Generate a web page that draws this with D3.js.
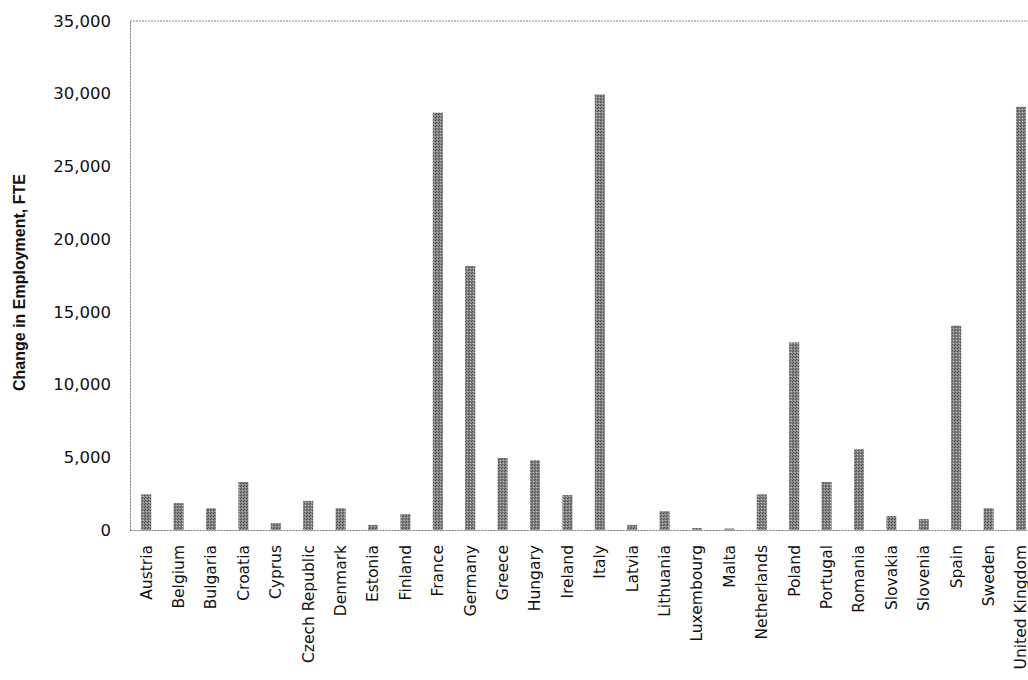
<!DOCTYPE html>
<html>
<head>
<meta charset="utf-8">
<script src="https://cdn.jsdelivr.net/npm/d3@7"></script>
<style>
  body { margin: 0; background: #fff; }
  svg { display: block; }
</style>
</head>
<body>
<div id="chart"></div>
<script>
// Change in employment by EU member state (FTE)
const countries = ["Austria", "Belgium", "Bulgaria", "Croatia", "Cyprus", "Czech Republic",
  "Denmark", "Estonia", "Finland", "France", "Germany", "Greece", "Hungary", "Ireland",
  "Italy", "Latvia", "Lithuania", "Luxembourg", "Malta", "Netherlands", "Poland",
  "Portugal", "Romania", "Slovakia", "Slovenia", "Spain", "Sweden", "United Kingdom"];
const employmentChange = [2450, 1850, 1500, 3300, 480, 2000,
  1500, 350, 1100, 28700, 18150, 4950, 4800, 2400,
  29950, 350, 1300, 130, 100, 2450, 12900,
  3300, 5550, 960, 750, 14050, 1500, 29100];
const yTicks = [0, 5000, 10000, 15000, 20000, 25000, 30000, 35000];

const width = 1028, height = 680;
const marginLeft = 130, marginTop = 21, zeroY = 530;

const svg = d3.select("#chart").append("svg")
    .attr("width", width)
    .attr("height", height);

// speckled grey fill like the scanned bars
const defs = svg.append("defs");
const pat = defs.append("pattern")
    .attr("id", "speckle")
    .attr("width", 3).attr("height", 3)
    .attr("patternUnits", "userSpaceOnUse");
pat.append("rect").attr("width", 3).attr("height", 3).attr("fill", "#858585");
pat.append("rect").attr("x", 0).attr("y", 0).attr("width", 1).attr("height", 1).attr("fill", "#4a4a4a");
pat.append("rect").attr("x", 2).attr("y", 1).attr("width", 1).attr("height", 1).attr("fill", "#bbb");
pat.append("rect").attr("x", 1).attr("y", 2).attr("width", 1).attr("height", 1).attr("fill", "#555");

const x = d3.scaleBand()
    .domain(countries)
    .range([marginLeft, marginLeft + countries.length * 32.4])
    .paddingInner(0.69)
    .paddingOuter(0.345);

const y = d3.scaleLinear()
    .domain([0, 35000])
    .range([zeroY, marginTop]);

// y axis
const yAxis = svg.append("g")
    .attr("transform", `translate(${marginLeft},0)`)
    .call(d3.axisLeft(y).tickValues(yTicks).tickSize(0).tickPadding(19)
      .tickFormat(d3.format(",")));
yAxis.select(".domain")
    .attr("stroke", "#777")
    .attr("stroke-dasharray", "2,1");
yAxis.selectAll("text")
    .attr("font-family", "'DejaVu Sans', sans-serif")
    .attr("font-size", 16.5)
    .attr("fill", "#111");

// top frame line
svg.append("line")
    .attr("x1", marginLeft).attr("x2", width)
    .attr("y1", y(35000)).attr("y2", y(35000))
    .attr("stroke", "#888")
    .attr("stroke-dasharray", "2,1");

// bars
svg.selectAll("rect.bar")
    .data(countries)
    .join("rect")
    .attr("class", "bar")
    .attr("x", d => x(d))
    .attr("width", x.bandwidth())
    .attr("y", (d, i) => y(employmentChange[i]))
    .attr("height", (d, i) => y(0) - y(employmentChange[i]))
    .attr("fill", "url(#speckle)");

// x axis
const xAxis = svg.append("g")
    .attr("transform", `translate(0,${zeroY})`)
    .call(d3.axisBottom(x).tickSize(0).tickPadding(0));
xAxis.select(".domain")
    .attr("stroke", "#777")
    .attr("stroke-dasharray", "2,1");
xAxis.selectAll("text")
    .attr("font-family", "'DejaVu Sans', sans-serif")
    .attr("font-size", 15.5)
    .attr("fill", "#111")
    .attr("text-anchor", "end")
    .attr("transform", "translate(0,15) rotate(-90)")
    .attr("x", 0)
    .attr("y", 0)
    .attr("dy", "0.35em");

// y axis title
svg.append("text")
    .attr("transform", `translate(25,${(marginTop + zeroY) / 2 + 7}) rotate(-90)`)
    .attr("text-anchor", "middle")
    .attr("font-family", "'Liberation Sans', Arial, sans-serif")
    .attr("font-weight", "bold")
    .attr("font-size", 16)
    .attr("fill", "#111")
    .text("Change in Employment, FTE");
</script>
</body>
</html>
